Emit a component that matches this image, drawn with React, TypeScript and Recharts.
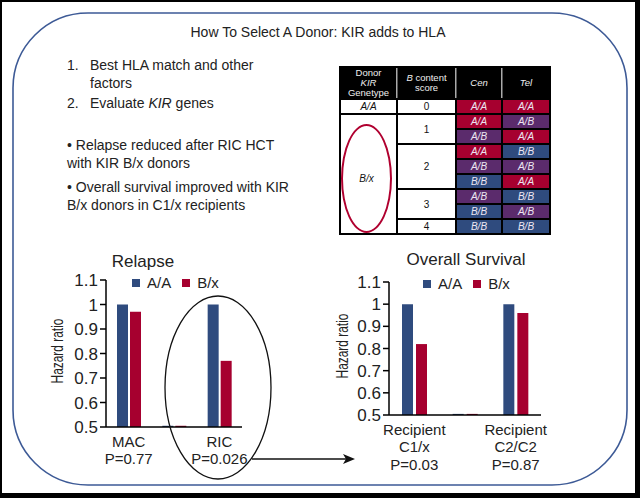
import React from 'react';
import { BarChart, Bar, XAxis, YAxis, Legend } from 'recharts';

const FONT = "'Liberation Sans', Arial, Helvetica, sans-serif";
const BLUE = '#2f4b7e';
const RED = '#a6002f';
const PURPLE = '#5b2b6c';

// relapse panel
const relapseCategories = ['MAC', 'gap', 'RIC'];
const relapseLabels = [['MAC', 'P=0.77'], [], ['RIC', 'P=0.026']];
const relapseAA = [1.0, 0.505, 1.0];
const relapseBx = [0.97, 0.505, 0.77];

// overall survival panel
const osCategories = ['C1/x', 'gap', 'C2/C2'];
const osLabels = [['Recipient', 'C1/x', 'P=0.03'], [], ['Recipient', 'C2/C2', 'P=0.87']];
const osAA = [1.0, 0.505, 1.0];
const osBx = [0.82, 0.505, 0.96];

const yTicks = [0.5, 0.6, 0.7, 0.8, 0.9, 1, 1.1];
const seriesNames = ['A/A', 'B/x'];

// KIR genotype table
const bScores = [0, 1, 1, 2, 2, 2, 3, 3, 4];
const cenGenes = ['A/A', 'A/A', 'A/B', 'A/A', 'A/B', 'B/B', 'A/B', 'B/B', 'B/B'];
const telGenes = ['A/A', 'A/B', 'A/A', 'B/B', 'A/B', 'A/A', 'B/B', 'A/B', 'B/B'];

const geneColor: Record<string, string> = { 'A/A': RED, 'A/B': PURPLE, 'B/B': BLUE };

function XTick(props: any) {
  const { x, y, payload, categories, labels } = props;
  const i = categories.indexOf(payload.value);
  const lines: string[] = labels[i] || [];
  return (
    <g>
      <text x={x} y={y} textAnchor="middle" fontSize={15} fill="#222" fontFamily={FONT}>
        {lines.map((l, k) => (
          <tspan key={k} x={x} dy={k === 0 ? 19.5 : 17.5}>
            {l}
          </tspan>
        ))}
      </text>
    </g>
  );
}

function LegendBox() {
  const colors = [BLUE, RED];
  return (
    <div style={{ display: 'flex', alignItems: 'center', fontFamily: FONT, fontSize: 15, color: '#222', lineHeight: '18px' }}>
      {seriesNames.map((n, i) => (
        <div key={n} style={{ display: 'flex', alignItems: 'center', marginRight: i === 0 ? 11 : 0 }}>
          <span style={{ width: 8, height: 8, background: colors[i], marginRight: 7, display: 'inline-block' }} />
          <span>{n}</span>
        </div>
      ))}
    </div>
  );
}

function HazardChart(props: any) {
  const { categories, labels, aa, bx, width, height, margin, yWidth, xHeight, legendPos, barSize, barGap } = props;
  const data = categories.map((c: string, i: number) => ({ name: c, aa: aa[i], bx: bx[i] }));
  return (
    <BarChart width={width} height={height} data={data} margin={margin} barSize={barSize} barGap={barGap}>
      <XAxis
        dataKey="name"
        interval={0}
        tickLine={false}
        tickSize={0}
        tickMargin={0}
        height={xHeight}
        axisLine={{ stroke: '#000', strokeWidth: 1.5 }}
        tick={<XTick categories={categories} labels={labels} />}
      />
      <YAxis
        type="number"
        domain={[0.5, 1.1]}
        ticks={yTicks}
        interval={0}
        allowDataOverflow
        width={yWidth}
        tickSize={6}
        axisLine={{ stroke: '#000', strokeWidth: 1.5 }}
        tickLine={{ stroke: '#000', strokeWidth: 1.5 }}
        tick={{ fontSize: 17, fill: '#222', fontFamily: FONT }}
        tickFormatter={(v: number) => String(v)}
      />
      <Legend
        layout="horizontal"
        verticalAlign="middle"
        align="center"
        content={() => <LegendBox />}
        wrapperStyle={{ top: legendPos.top, left: legendPos.left, width: 'auto', height: 'auto' }}
      />
      <Bar dataKey="aa" name="A/A" fill={BLUE} isAnimationActive={false} />
      <Bar dataKey="bx" name="B/x" fill={RED} isAnimationActive={false} />
    </BarChart>
  );
}

function GeneTable() {
  const cell: React.CSSProperties = {
    display: 'flex',
    alignItems: 'center',
    justifyContent: 'center',
    fontSize: 10,
  };
  const headCell: React.CSSProperties = {
    ...cell,
    background: '#000',
    color: '#eee',
    fontSize: 9.5,
    lineHeight: '10px',
    textAlign: 'center',
    flexDirection: 'column',
  };
  const groups: { score: number; start: number; count: number }[] = [];
  bScores.forEach((s, i) => {
    const g = groups[groups.length - 1];
    if (g && g.score === s) g.count += 1;
    else groups.push({ score: s, start: i, count: 1 });
  });
  return (
    <div
      style={{
        position: 'absolute',
        left: 339,
        top: 66,
        display: 'grid',
        gridTemplateColumns: '55px 57px 44px 46px',
        gridTemplateRows: '30px repeat(9, 13px)',
        gap: 2,
        padding: 2,
        background: '#000',
        fontFamily: FONT,
      }}
    >
      <div style={{ ...headCell, gridRow: 1, gridColumn: 1, boxShadow: '1.5px 0 0 #aaa' }}>
        <span>Donor</span>
        <i>KIR</i>
        <span>Genetype</span>
      </div>
      <div style={{ ...headCell, gridRow: 1, gridColumn: 2, boxShadow: '1.5px 0 0 #aaa' }}>
        <span>
          <i>B</i> content
        </span>
        <span>score</span>
      </div>
      <div style={{ ...headCell, gridRow: 1, gridColumn: 3, boxShadow: '1.5px 0 0 #aaa', fontStyle: 'italic' }}>Cen</div>
      <div style={{ ...headCell, gridRow: 1, gridColumn: 4, fontStyle: 'italic' }}>Tel</div>

      <div style={{ ...cell, gridRow: 2, gridColumn: 1, background: '#fff', color: '#111', fontStyle: 'italic' }}>A/A</div>
      <div style={{ ...cell, gridRow: '3 / 11', gridColumn: 1, background: '#fff', color: '#111', position: 'relative' }}>
        <div
          style={{
            position: 'absolute',
            left: 0,
            top: 9,
            width: 47,
            height: 105,
            border: '2px solid #b0002f',
            borderRadius: '50%',
            display: 'flex',
            alignItems: 'center',
            justifyContent: 'center',
            fontStyle: 'italic',
          }}
        >
          B/x
        </div>
      </div>

      {groups.map((g) => (
        <div
          key={g.score}
          style={{ ...cell, gridRow: `${g.start + 2} / ${g.start + 2 + g.count}`, gridColumn: 2, background: '#fff', color: '#111' }}
        >
          {g.score}
        </div>
      ))}

      {cenGenes.map((c, i) => (
        <div key={'c' + i} style={{ ...cell, gridRow: i + 2, gridColumn: 3, background: geneColor[c], color: '#ece6f2', fontStyle: 'italic' }}>
          {c}
        </div>
      ))}
      {telGenes.map((t, i) => (
        <div key={'t' + i} style={{ ...cell, gridRow: i + 2, gridColumn: 4, background: geneColor[t], color: '#ece6f2', fontStyle: 'italic' }}>
          {t}
        </div>
      ))}
    </div>
  );
}

function AxisTitle({ cx, cy, text }: { cx: number; cy: number; text: string }) {
  return (
    <div
      style={{
        position: 'absolute',
        left: cx,
        top: cy,
        transform: 'translate(-50%, -50%) rotate(-90deg) scaleX(0.7)',
        whiteSpace: 'nowrap',
        fontSize: 17,
        lineHeight: '18px',
        color: '#222',
      }}
    >
      {text}
    </div>
  );
}

function Line({ top, left, children }: { top: number; left: number; children: React.ReactNode }) {
  return (
    <div style={{ position: 'absolute', top, left, fontSize: 14, lineHeight: '18px', color: '#222', whiteSpace: 'nowrap' }}>
      {children}
    </div>
  );
}

export default function App() {
  return (
    <div
      style={{
        position: 'absolute',
        left: 0,
        top: 0,
        width: 640,
        height: 498,
        boxSizing: 'border-box',
        borderStyle: 'solid',
        borderColor: '#000',
        borderWidth: '2px 5px 5px 2px',
        background: '#fff',
        fontFamily: FONT,
        overflow: 'hidden',
      }}
    >
      <div style={{ position: 'absolute', left: -2, top: -2, width: 640, height: 498 }}>
        <div style={{ position: 'absolute', left: 318, top: 23, transform: 'translateX(-50%)', fontSize: 14, lineHeight: '18px', color: '#222', whiteSpace: 'nowrap' }}>
          How To Select A Donor: KIR adds to HLA
        </div>

        <Line top={56} left={67}>1.</Line>
        <Line top={56} left={90}>Best HLA match and other</Line>
        <Line top={74} left={90}>factors</Line>
        <Line top={94} left={67}>2.</Line>
        <Line top={94} left={90}>
          Evaluate <i>KIR</i> genes
        </Line>
        <Line top={136} left={67}>• Relapse reduced after RIC HCT</Line>
        <Line top={154} left={67}>with KIR B/x donors</Line>
        <Line top={178} left={67}>• Overall survival improved with KIR</Line>
        <Line top={196} left={67}>B/x donors in C1/x recipients</Line>

        <GeneTable />

        <div style={{ position: 'absolute', left: 143, top: 252, transform: 'translateX(-50%)', fontSize: 17, lineHeight: '20px', color: '#222', whiteSpace: 'nowrap' }}>
          Relapse
        </div>
        <div style={{ position: 'absolute', left: 466, top: 250, transform: 'translateX(-50%)', fontSize: 17, lineHeight: '20px', color: '#222', whiteSpace: 'nowrap' }}>
          Overall Survival
        </div>

        <AxisTitle cx={58} cy={351} text="Hazard ratio" />
        <AxisTitle cx={343} cy={346} text="Hazard ratio" />

        <div style={{ position: 'absolute', left: 30, top: 250 }}>
          <HazardChart
            categories={relapseCategories}
            labels={relapseLabels}
            aa={relapseAA}
            bx={relapseBx}
            width={230}
            height={230}
            margin={{ top: 30, right: 18, bottom: 8, left: 0 }}
            yWidth={76}
            xHeight={45}
            legendPos={{ top: 24, left: 102 }}
            barSize={11}
            barGap={2}
          />
        </div>

        <div style={{ position: 'absolute', left: 315, top: 250 }}>
          <HazardChart
            categories={osCategories}
            labels={osLabels}
            aa={osAA}
            bx={osBx}
            width={250}
            height={230}
            margin={{ top: 32, right: 24, bottom: 8, left: 0 }}
            yWidth={74}
            xHeight={57}
            legendPos={{ top: 25, left: 108 }}
            barSize={11}
            barGap={3}
          />
        </div>

        <svg width={640} height={498} style={{ position: 'absolute', left: 0, top: 0, pointerEvents: 'none' }}>
          <rect x={13} y={13} width={614} height={472} rx={75} ry={75} fill="none" stroke="#3d5a96" strokeWidth={1.6} />
          <ellipse cx={218} cy={387.5} rx={53} ry={91.5} fill="none" stroke="#111" strokeWidth={1.3} />
          <line x1={252} y1={459} x2={346} y2={459} stroke="#111" strokeWidth={1.6} />
          <polygon points="355,459 343,454 346,459 343,464" fill="#111" />
        </svg>
      </div>
    </div>
  );
}
